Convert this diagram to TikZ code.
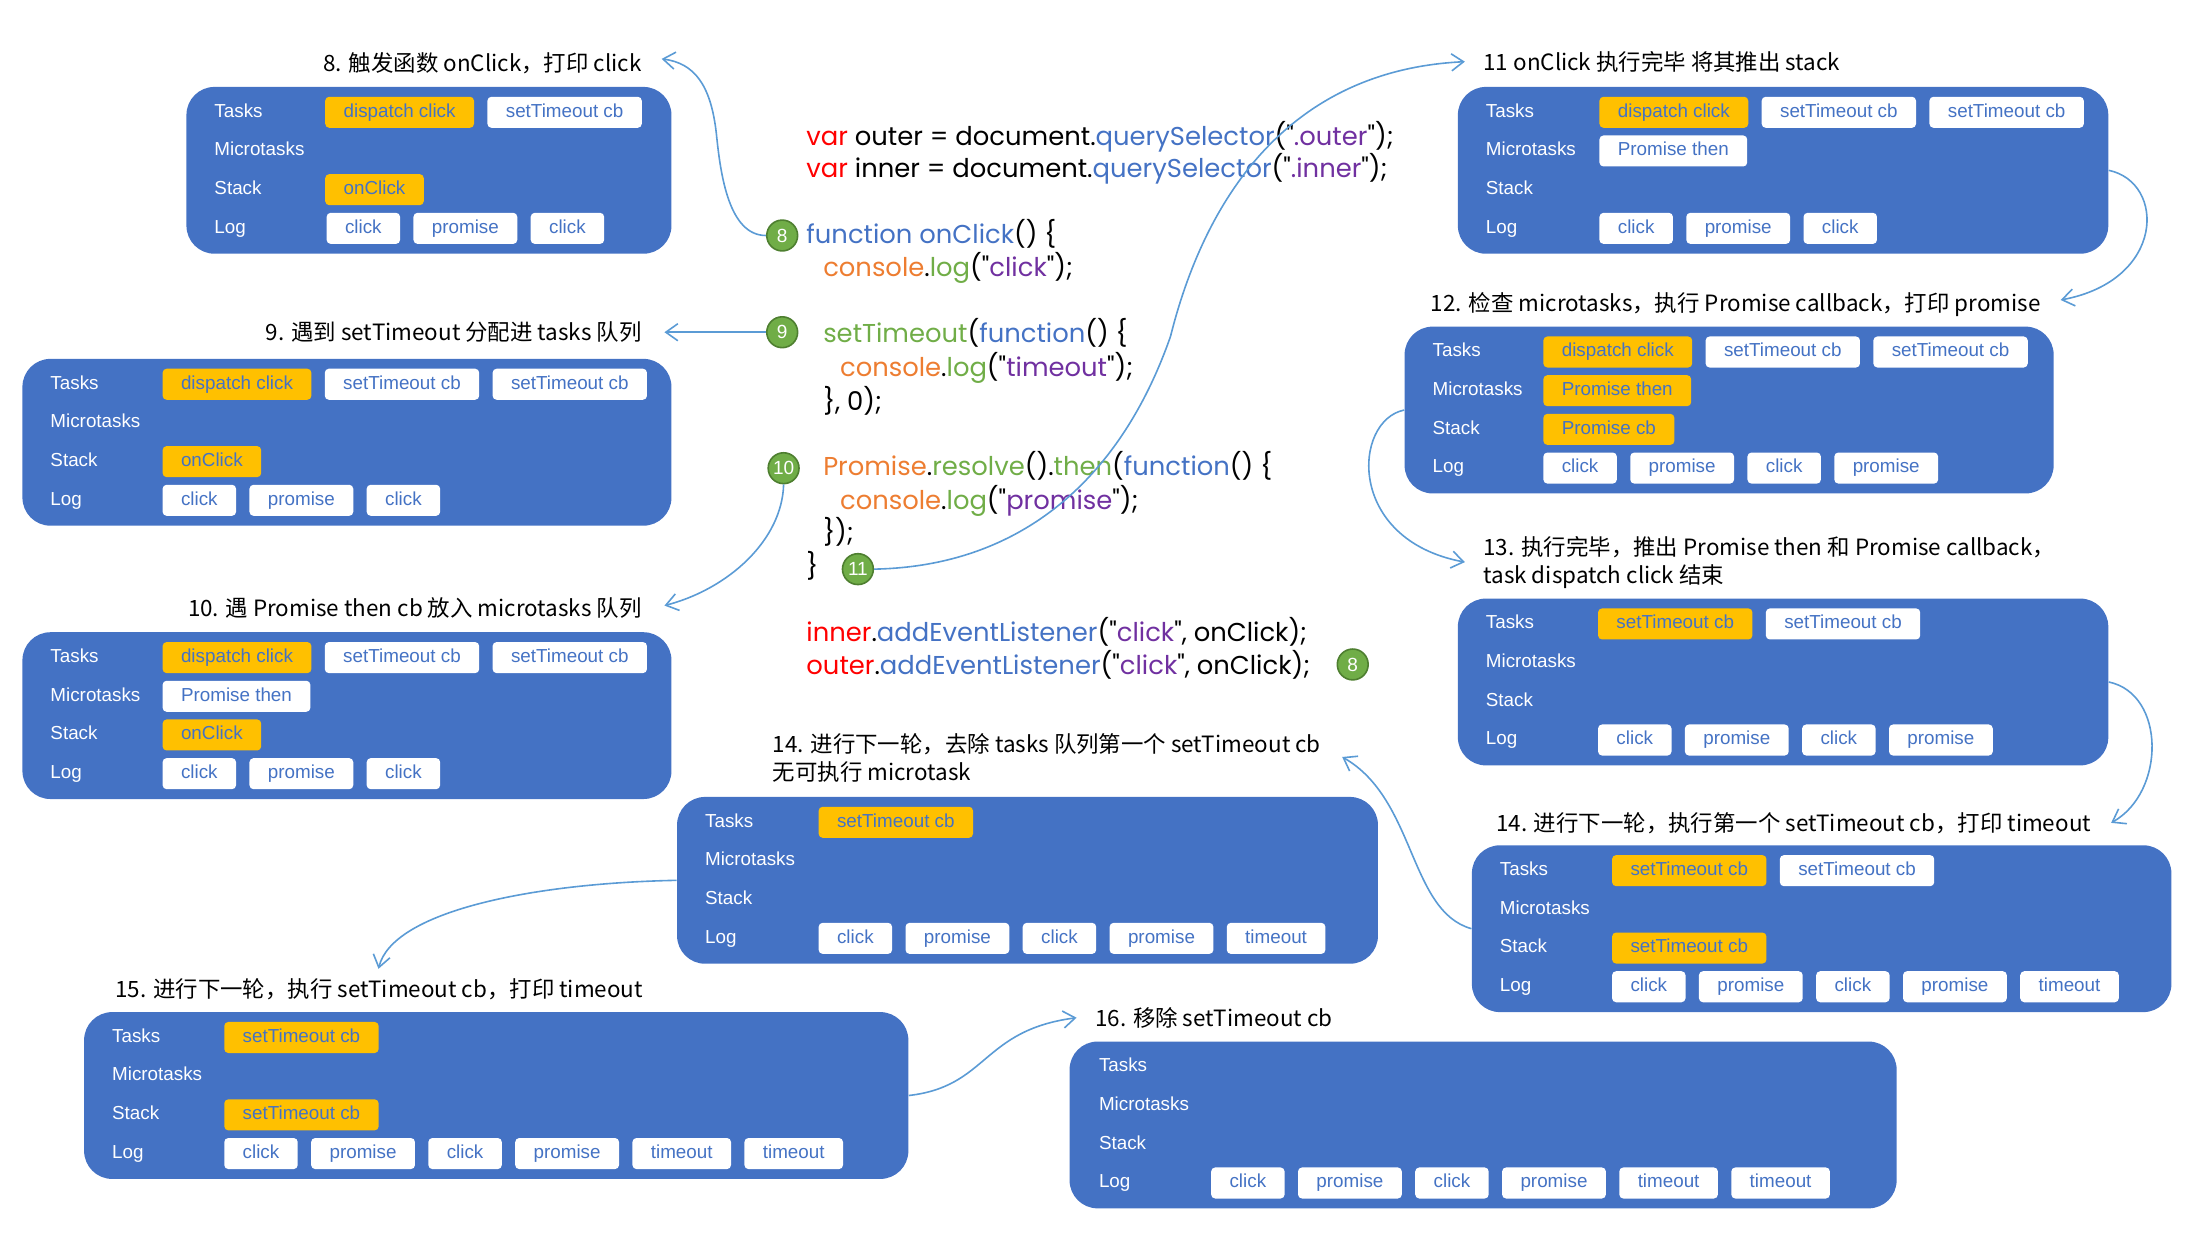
\documentclass[tikz,border=0pt]{standalone}
\usepackage{fontspec}
\setmainfont{Liberation Sans}
\newfontfamily\cjk{Noto Sans CJK SC}
\newfontfamily\codefont{Poppins}
\usetikzlibrary{positioning,arrows.meta}
\definecolor{panelblue}{HTML}{4472C4}
\definecolor{chipyellow}{HTML}{FFC000}
\definecolor{flowblue}{HTML}{5B9BD5}
\definecolor{stepgreen}{HTML}{70AD47}
\definecolor{stepedge}{HTML}{4E7F30}
\definecolor{jsred}{HTML}{FF0000}
\definecolor{jsblue}{HTML}{4472C4}
\definecolor{jspurple}{HTML}{7030A0}
\definecolor{jsorange}{HTML}{ED7D31}
\definecolor{jsgreen}{HTML}{70AD47}
\begin{document}
\begin{tikzpicture}[
        x=0.7pt, y=-0.7pt,
        panel/.style={rectangle, fill=panelblue, rounded corners=14pt, minimum height=83.3pt, inner sep=0pt},
        row_label/.style={anchor=west, inner sep=0pt, text=white, text height=6.8pt, text depth=2pt, font=\fontsize{9.4}{11}\selectfont},
        chip/.style={rectangle, fill=white, rounded corners=2pt, text=panelblue, anchor=west, minimum height=15.5pt, inner xsep=9.2pt, inner ysep=0pt, text height=6.8pt, text depth=2pt, font=\fontsize{9.4}{11}\selectfont},
        chip_hot/.style={chip, fill=chipyellow},
        title/.style={inner sep=0pt, align=left, font=\cjk\fontsize{11.2}{14}\selectfont},
        code_line/.style={anchor=base west, inner sep=0pt, font=\codefont\fontsize{12.9}{15}\selectfont},
        step_num/.style={circle, fill=stepgreen, draw=stepedge, line width=0.8pt, minimum size=15.4pt, inner sep=0pt, text=white, font=\fontsize{9.5}{10}\selectfont},
        flow/.style={draw=flowblue, line width=0.8pt, -{Straight Barb[length=6pt, width=8.5pt]}}
    ]
        \useasboundingbox (0,0) rectangle (1568,879);

        % Code
        \node[code_line] (code1) at (575,103.5) {\textcolor{jsred}{var} outer = document.\textcolor{jsblue}{querySelector}("\textcolor{jspurple}{.outer}");};
        \node[code_line] (code2) at (575,126.5) {\textcolor{jsred}{var} inner = document.\textcolor{jsblue}{querySelector}("\textcolor{jspurple}{.inner}");};
        \node[code_line] (code3) at (575,173.5) {\textcolor{jsblue}{function onClick}() \{};
        \node[code_line] (code4) at (587,197.5) {\textcolor{jsorange}{console}.\textcolor{jsgreen}{log}("\textcolor{jspurple}{click}");};
        \node[code_line] (code5) at (587,244.5) {\textcolor{jsgreen}{setTimeout}(\textcolor{jsblue}{function}() \{};
        \node[code_line] (code6) at (599,268.5) {\textcolor{jsorange}{console}.\textcolor{jsgreen}{log}("\textcolor{jspurple}{timeout}");};
        \node[code_line] (code7) at (587,292.5) {\}, 0);};
        \node[code_line] (code8) at (587,339.5) {\textcolor{jsorange}{Promise}.\textcolor{jsgreen}{resolve}().\textcolor{jsgreen}{then}(\textcolor{jsblue}{function}() \{};
        \node[code_line] (code9) at (599,363.5) {\textcolor{jsorange}{console}.\textcolor{jsgreen}{log}("\textcolor{jspurple}{promise}");};
        \node[code_line] (code10) at (587,386.5) {\});};
        \node[code_line] (code11) at (575,410.5) {\}};
        \node[code_line] (code12) at (575,457.5) {\textcolor{jsred}{inner}.\textcolor{jsblue}{addEventListener}("\textcolor{jspurple}{click}", onClick);};
        \node[code_line] (code13) at (575,481.5) {\textcolor{jsred}{outer}.\textcolor{jsblue}{addEventListener}("\textcolor{jspurple}{click}", onClick);};

        % Step numbers
        \node[step_num] (c8) at (558,168) {8};
        \node[step_num] (c9) at (558,237) {9};
        \node[step_num] (c10) at (559,334) {10};
        \node[step_num] (c11) at (612,406) {11};
        \node[step_num] (c8b) at (965,474) {8};

        % Titles
        \node[title, anchor=east] (t8) at (458,45) {8. 触发函数 onClick，打印 click};
        \node[title, anchor=east] (t9) at (458,237) {9. 遇到 setTimeout 分配进 tasks 队列};
        \node[title, anchor=east] (t10) at (458,434) {10. 遇 Promise then cb 放入 microtasks 队列};
        \node[title, anchor=west] (t11) at (1058,44) {11 onClick 执行完毕 将其推出 stack};
        \node[title, anchor=east] (t12) at (1456,217) {12. 检查 microtasks，执行 Promise callback，打印 promise};
        \node[title, anchor=west] (t13) at (1058,401) {13. 执行完毕，推出 Promise then 和 Promise callback，\\task dispatch click 结束};
        \node[title, anchor=west] (t14a) at (551,541) {14. 进行下一轮，去除 tasks 队列第一个 setTimeout cb\\无可执行 microtask};
        \node[title, anchor=east] (t14b) at (1492,587) {14. 进行下一轮，执行第一个 setTimeout cb，打印 timeout};
        \node[title, anchor=west] (t15) at (82,706) {15. 进行下一轮，执行 setTimeout cb，打印 timeout};
        \node[title, anchor=west] (t16) at (781,726) {16. 移除 setTimeout cb};

        % Panel 8
        \node[panel, minimum width=242.2pt] (p8) at (306,121.5) {};
        \node[row_label] (p8a) at ([shift={(20,-41.4)}]p8.west) {Tasks};
        \node[row_label] (p8b) at ([shift={(20,-13.8)}]p8.west) {Microtasks};
        \node[row_label] (p8c) at ([shift={(20,13.8)}]p8.west) {Stack};
        \node[row_label] (p8d) at ([shift={(20,41.4)}]p8.west) {Log};
        \node[chip_hot] (p8t1) at ([shift={(99,-41.4)}]p8.west) {dispatch click};
        \node[chip, right=6.3pt of p8t1] (p8t2) {setTimeout cb};
        \node[chip_hot] (p8s1) at ([shift={(99,13.8)}]p8.west) {onClick};
        \node[chip] (p8l1) at ([shift={(100,41.4)}]p8.west) {click};
        \node[chip, right=6.3pt of p8l1] (p8l2) {promise};
        \node[chip, right=6.3pt of p8l2] (p8l3) {click};

        % Panel 9
        \node[panel, minimum width=324.1pt] (p9) at (247.5,315.5) {};
        \node[row_label] (p9a) at ([shift={(20,-41.4)}]p9.west) {Tasks};
        \node[row_label] (p9b) at ([shift={(20,-13.8)}]p9.west) {Microtasks};
        \node[row_label] (p9c) at ([shift={(20,13.8)}]p9.west) {Stack};
        \node[row_label] (p9d) at ([shift={(20,41.4)}]p9.west) {Log};
        \node[chip_hot] (p9t1) at ([shift={(100,-41.4)}]p9.west) {dispatch click};
        \node[chip, right=6.3pt of p9t1] (p9t2) {setTimeout cb};
        \node[chip, right=6.3pt of p9t2] (p9t3) {setTimeout cb};
        \node[chip_hot] (p9s1) at ([shift={(100,13.8)}]p9.west) {onClick};
        \node[chip] (p9l1) at ([shift={(100,41.4)}]p9.west) {click};
        \node[chip, right=6.3pt of p9l1] (p9l2) {promise};
        \node[chip, right=6.3pt of p9l2] (p9l3) {click};

        % Panel 10
        \node[panel, minimum width=324.1pt] (p10) at (247.5,510.5) {};
        \node[row_label] (p10a) at ([shift={(20,-41.4)}]p10.west) {Tasks};
        \node[row_label] (p10b) at ([shift={(20,-13.8)}]p10.west) {Microtasks};
        \node[row_label] (p10c) at ([shift={(20,13.8)}]p10.west) {Stack};
        \node[row_label] (p10d) at ([shift={(20,41.4)}]p10.west) {Log};
        \node[chip_hot] (p10t1) at ([shift={(100,-41.4)}]p10.west) {dispatch click};
        \node[chip, right=6.3pt of p10t1] (p10t2) {setTimeout cb};
        \node[chip, right=6.3pt of p10t2] (p10t3) {setTimeout cb};
        \node[chip] (p10m1) at ([shift={(100,-13.8)}]p10.west) {Promise then};
        \node[chip_hot] (p10s1) at ([shift={(100,13.8)}]p10.west) {onClick};
        \node[chip] (p10l1) at ([shift={(100,41.4)}]p10.west) {click};
        \node[chip, right=6.3pt of p10l1] (p10l2) {promise};
        \node[chip, right=6.3pt of p10l2] (p10l3) {click};

        % Panel 11
        \node[panel, minimum width=324.8pt] (p11) at (1272,121.5) {};
        \node[row_label] (p11a) at ([shift={(20,-41.4)}]p11.west) {Tasks};
        \node[row_label] (p11b) at ([shift={(20,-13.8)}]p11.west) {Microtasks};
        \node[row_label] (p11c) at ([shift={(20,13.8)}]p11.west) {Stack};
        \node[row_label] (p11d) at ([shift={(20,41.4)}]p11.west) {Log};
        \node[chip_hot] (p11t1) at ([shift={(101,-41.4)}]p11.west) {dispatch click};
        \node[chip, right=6.3pt of p11t1] (p11t2) {setTimeout cb};
        \node[chip, right=6.3pt of p11t2] (p11t3) {setTimeout cb};
        \node[chip] (p11m1) at ([shift={(101,-13.8)}]p11.west) {Promise then};
        \node[chip] (p11l1) at ([shift={(101,41.4)}]p11.west) {click};
        \node[chip, right=6.3pt of p11l1] (p11l2) {promise};
        \node[chip, right=6.3pt of p11l2] (p11l3) {click};

        % Panel 12
        \node[panel, minimum width=324.1pt] (p12) at (1233.5,292.5) {};
        \node[row_label] (p12a) at ([shift={(20,-41.4)}]p12.west) {Tasks};
        \node[row_label] (p12b) at ([shift={(20,-13.8)}]p12.west) {Microtasks};
        \node[row_label] (p12c) at ([shift={(20,13.8)}]p12.west) {Stack};
        \node[row_label] (p12d) at ([shift={(20,41.4)}]p12.west) {Log};
        \node[chip_hot] (p12t1) at ([shift={(99,-41.4)}]p12.west) {dispatch click};
        \node[chip, right=6.3pt of p12t1] (p12t2) {setTimeout cb};
        \node[chip, right=6.3pt of p12t2] (p12t3) {setTimeout cb};
        \node[chip_hot] (p12m1) at ([shift={(99,-13.8)}]p12.west) {Promise then};
        \node[chip_hot] (p12s1) at ([shift={(99,13.8)}]p12.west) {Promise cb};
        \node[chip] (p12l1) at ([shift={(99,41.4)}]p12.west) {click};
        \node[chip, right=6.3pt of p12l1] (p12l2) {promise};
        \node[chip, right=6.3pt of p12l2] (p12l3) {click};
        \node[chip, right=6.3pt of p12l3] (p12l4) {promise};

        % Panel 13
        \node[panel, minimum width=324.8pt] (p13) at (1272,486.5) {};
        \node[row_label] (p13a) at ([shift={(20,-41.4)}]p13.west) {Tasks};
        \node[row_label] (p13b) at ([shift={(20,-13.8)}]p13.west) {Microtasks};
        \node[row_label] (p13c) at ([shift={(20,13.8)}]p13.west) {Stack};
        \node[row_label] (p13d) at ([shift={(20,41.4)}]p13.west) {Log};
        \node[chip_hot] (p13t1) at ([shift={(100,-41.4)}]p13.west) {setTimeout cb};
        \node[chip, right=6.3pt of p13t1] (p13t2) {setTimeout cb};
        \node[chip] (p13l1) at ([shift={(100,41.4)}]p13.west) {click};
        \node[chip, right=6.3pt of p13l1] (p13l2) {promise};
        \node[chip, right=6.3pt of p13l2] (p13l3) {click};
        \node[chip, right=6.3pt of p13l3] (p13l4) {promise};

        % Panel 14 (centre)
        \node[panel, minimum width=350pt] (p14a) at (733,628) {};
        \node[row_label] (p14aa) at ([shift={(20,-41.4)}]p14a.west) {Tasks};
        \node[row_label] (p14ab) at ([shift={(20,-13.8)}]p14a.west) {Microtasks};
        \node[row_label] (p14ac) at ([shift={(20,13.8)}]p14a.west) {Stack};
        \node[row_label] (p14ad) at ([shift={(20,41.4)}]p14a.west) {Log};
        \node[chip_hot] (p14at1) at ([shift={(101,-41.4)}]p14a.west) {setTimeout cb};
        \node[chip] (p14al1) at ([shift={(101,41.4)}]p14a.west) {click};
        \node[chip, right=6.3pt of p14al1] (p14al2) {promise};
        \node[chip, right=6.3pt of p14al2] (p14al3) {click};
        \node[chip, right=6.3pt of p14al3] (p14al4) {promise};
        \node[chip, right=6.3pt of p14al4] (p14al5) {timeout};

        % Panel 14 (right)
        \node[panel, minimum width=349.3pt] (p14b) at (1299.5,662.5) {};
        \node[row_label] (p14ba) at ([shift={(20,-41.4)}]p14b.west) {Tasks};
        \node[row_label] (p14bb) at ([shift={(20,-13.8)}]p14b.west) {Microtasks};
        \node[row_label] (p14bc) at ([shift={(20,13.8)}]p14b.west) {Stack};
        \node[row_label] (p14bd) at ([shift={(20,41.4)}]p14b.west) {Log};
        \node[chip_hot] (p14bt1) at ([shift={(100,-41.4)}]p14b.west) {setTimeout cb};
        \node[chip, right=6.3pt of p14bt1] (p14bt2) {setTimeout cb};
        \node[chip_hot] (p14bs1) at ([shift={(100,13.8)}]p14b.west) {setTimeout cb};
        \node[chip] (p14bl1) at ([shift={(100,41.4)}]p14b.west) {click};
        \node[chip, right=6.3pt of p14bl1] (p14bl2) {promise};
        \node[chip, right=6.3pt of p14bl2] (p14bl3) {click};
        \node[chip, right=6.3pt of p14bl3] (p14bl4) {promise};
        \node[chip, right=6.3pt of p14bl4] (p14bl5) {timeout};

        % Panel 15
        \node[panel, minimum width=411.6pt] (p15) at (354,781.5) {};
        \node[row_label] (p15a) at ([shift={(20,-41.4)}]p15.west) {Tasks};
        \node[row_label] (p15b) at ([shift={(20,-13.8)}]p15.west) {Microtasks};
        \node[row_label] (p15c) at ([shift={(20,13.8)}]p15.west) {Stack};
        \node[row_label] (p15d) at ([shift={(20,41.4)}]p15.west) {Log};
        \node[chip_hot] (p15t1) at ([shift={(100,-41.4)}]p15.west) {setTimeout cb};
        \node[chip_hot] (p15s1) at ([shift={(100,13.8)}]p15.west) {setTimeout cb};
        \node[chip] (p15l1) at ([shift={(100,41.4)}]p15.west) {click};
        \node[chip, right=6.3pt of p15l1] (p15l2) {promise};
        \node[chip, right=6.3pt of p15l2] (p15l3) {click};
        \node[chip, right=6.3pt of p15l3] (p15l4) {promise};
        \node[chip, right=6.3pt of p15l4] (p15l5) {timeout};
        \node[chip, right=6.3pt of p15l5] (p15l6) {timeout};

        % Panel 16
        \node[panel, minimum width=413pt] (p16) at (1058,802.5) {};
        \node[row_label] (p16a) at ([shift={(21,-41.4)}]p16.west) {Tasks};
        \node[row_label] (p16b) at ([shift={(21,-13.8)}]p16.west) {Microtasks};
        \node[row_label] (p16c) at ([shift={(21,13.8)}]p16.west) {Stack};
        \node[row_label] (p16d) at ([shift={(21,41.4)}]p16.west) {Log};
        \node[chip] (p16l1) at ([shift={(101,41.4)}]p16.west) {click};
        \node[chip, right=6.3pt of p16l1] (p16l2) {promise};
        \node[chip, right=6.3pt of p16l2] (p16l3) {click};
        \node[chip, right=6.3pt of p16l3] (p16l4) {promise};
        \node[chip, right=6.3pt of p16l4] (p16l5) {timeout};
        \node[chip, right=6.3pt of p16l5] (p16l6) {timeout};

        % Connectors
        \draw[flow] (c8.west) .. controls (520,168) and (514,125) .. (511,95) .. controls (507,60) and (495,45) .. ([shift={(14,-3)}]t8.east);
        \draw[flow] (c9.west) -- ([shift={(16,0)}]t9.east);
        \draw[flow] (c10.south) .. controls (558,385) and (520,420) .. ([shift={(16,-2)}]t10.east);
        \draw[flow] (c11.east) .. controls (730,404) and (800,340) .. (835,240) .. controls (860,140) and (920,50) .. ([shift={(-13,0)}]t11.west);
        \draw[flow] (p11.east) .. controls (1545,130) and (1545,200) .. ([shift={(14,-3)}]t12.east);
        \draw[flow] (p12.west) .. controls (965,300) and (960,385) .. ([shift={(-13,0)}]t13.west);
        \draw[flow] (p13.east) .. controls (1545,495) and (1545,565) .. ([shift={(14,0)}]t14b.east);
        \draw[flow] (p14b.west) .. controls (1005,650) and (1010,570) .. ([shift={(15,-1)}]t14a.east);
        \draw[flow] (p14a.west) .. controls (380,630) and (280,650) .. ([shift={(188,-7)}]t15.north west);
        \draw[flow] (p15.east) .. controls (705,775) and (700,735) .. ([shift={(-13,0)}]t16.west);

\end{tikzpicture}
\end{document}
